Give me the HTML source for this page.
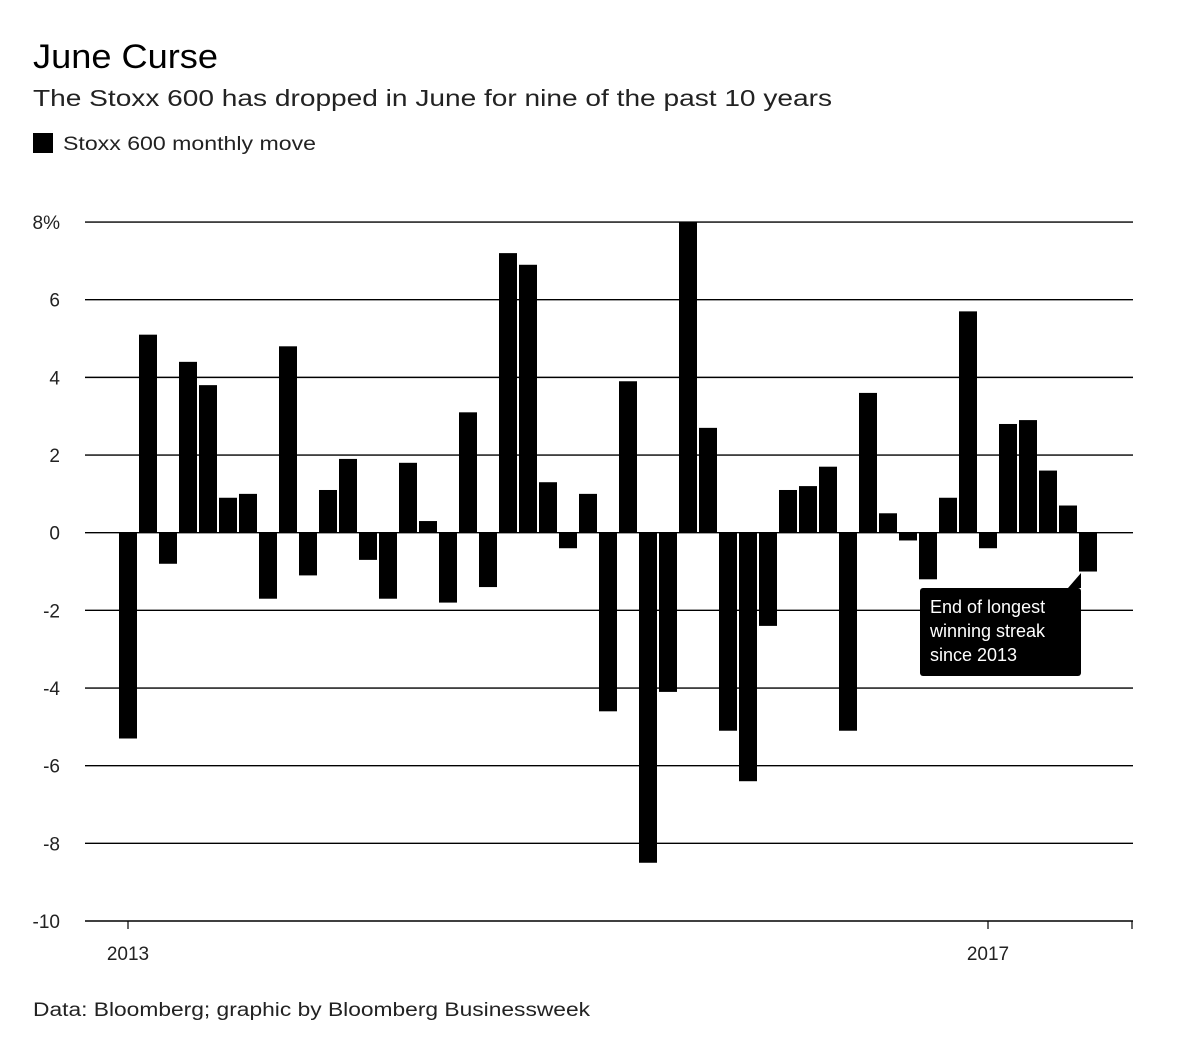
<!DOCTYPE html>
<html><head><meta charset="utf-8"><style>
body{margin:0;background:#fff;font-family:"Liberation Sans",sans-serif;color:#000}
.wrap{position:relative;width:1200px;height:1057px}
</style></head><body>
<div class="wrap">
<svg id="chart" width="1200" height="1057">
<text x="33" y="68" font-size="34" textLength="185" lengthAdjust="spacingAndGlyphs">June Curse</text>
<text x="33" y="106" font-size="23" fill="#222" textLength="799" lengthAdjust="spacingAndGlyphs">The Stoxx 600 has dropped in June for nine of the past 10 years</text>
<rect x="33" y="133" width="20" height="20" fill="#000"/>
<text x="63" y="150" font-size="19" fill="#222" textLength="253" lengthAdjust="spacingAndGlyphs">Stoxx 600 monthly move</text>
<text x="33" y="1016" font-size="19" fill="#222" textLength="557" lengthAdjust="spacingAndGlyphs">Data: Bloomberg; graphic by Bloomberg Businessweek</text>
<g id="grid"></g><g id="bars"></g><g id="xaxis"></g>
<g>
<rect x="920" y="588" width="161" height="88" rx="3" fill="#000"/>
<polygon points="1068,588 1081,573 1081,588" fill="#000"/>
<text fill="#fff" font-size="18"><tspan x="930" y="613">End of longest</tspan><tspan x="930" y="637">winning streak</tspan><tspan x="930" y="661">since 2013</tspan></text>
</g>
</svg>
</div>
<script>
const values=[-5.3,5.1,-0.8,4.4,3.8,0.9,1.0,-1.7,4.8,-1.1,1.1,1.9,-0.7,-1.7,1.8,0.3,-1.8,3.1,-1.4,7.2,6.9,1.3,-0.4,1.0,-4.6,3.9,-8.5,-4.1,8.0,2.7,-5.1,-6.4,-2.4,1.1,1.2,1.7,-5.1,3.6,0.5,-0.2,-1.2,0.9,5.7,-0.4,2.8,2.9,1.6,0.7,-1.0];
const yTicks=[8,6,4,2,0,-2,-4,-6,-8,-10];
const yTickLabels=["8%","6","4","2","0","-2","-4","-6","-8","-10"];
const xTickIndex=[0,43];
const xTickLabels=["2013","2017"];
const NS="http://www.w3.org/2000/svg";
const y=v=>532.7-(v)*38.83;
const x=i=>128+i*20;
function mk(t,a,p){const e=document.createElementNS(NS,t);for(const k in a)e.setAttribute(k,a[k]);p.appendChild(e);return e;}
const grid=document.getElementById('grid');
yTicks.forEach((t,i)=>{
 const l=mk('line',{x1:85,x2:1133,y1:y(t),y2:y(t),stroke:'#000','stroke-width':t===-10?1.6:1.4},grid);
 
 
 const tx=mk('text',{x:60,y:y(t)+7,'font-size':19,'text-anchor':'end',fill:'#222'},grid);
 tx.textContent=yTickLabels[i];
 
 
});
const bars=document.getElementById('bars');
values.forEach((v,i)=>{
 const r=mk('rect',{x:x(i)-9,width:18,y:Math.min(y(v),y(0)),height:Math.abs(y(v)-y(0)),fill:'#000'},bars);
 
 
});
const xa=document.getElementById('xaxis');
xTickIndex.forEach((idx,i)=>{
 const l=mk('line',{x1:x(idx),x2:x(idx),y1:921,y2:929,stroke:'#000','stroke-width':1.2},xa);
 
 
 const t=mk('text',{x:x(idx),y:960,'font-size':19,'text-anchor':'middle',fill:'#222'},xa);
 t.textContent=xTickLabels[i];
 
 
});
const e=mk('line',{x1:1132,x2:1132,y1:921,y2:929,stroke:'#000','stroke-width':1.2},xa);


</script>
</body></html>
